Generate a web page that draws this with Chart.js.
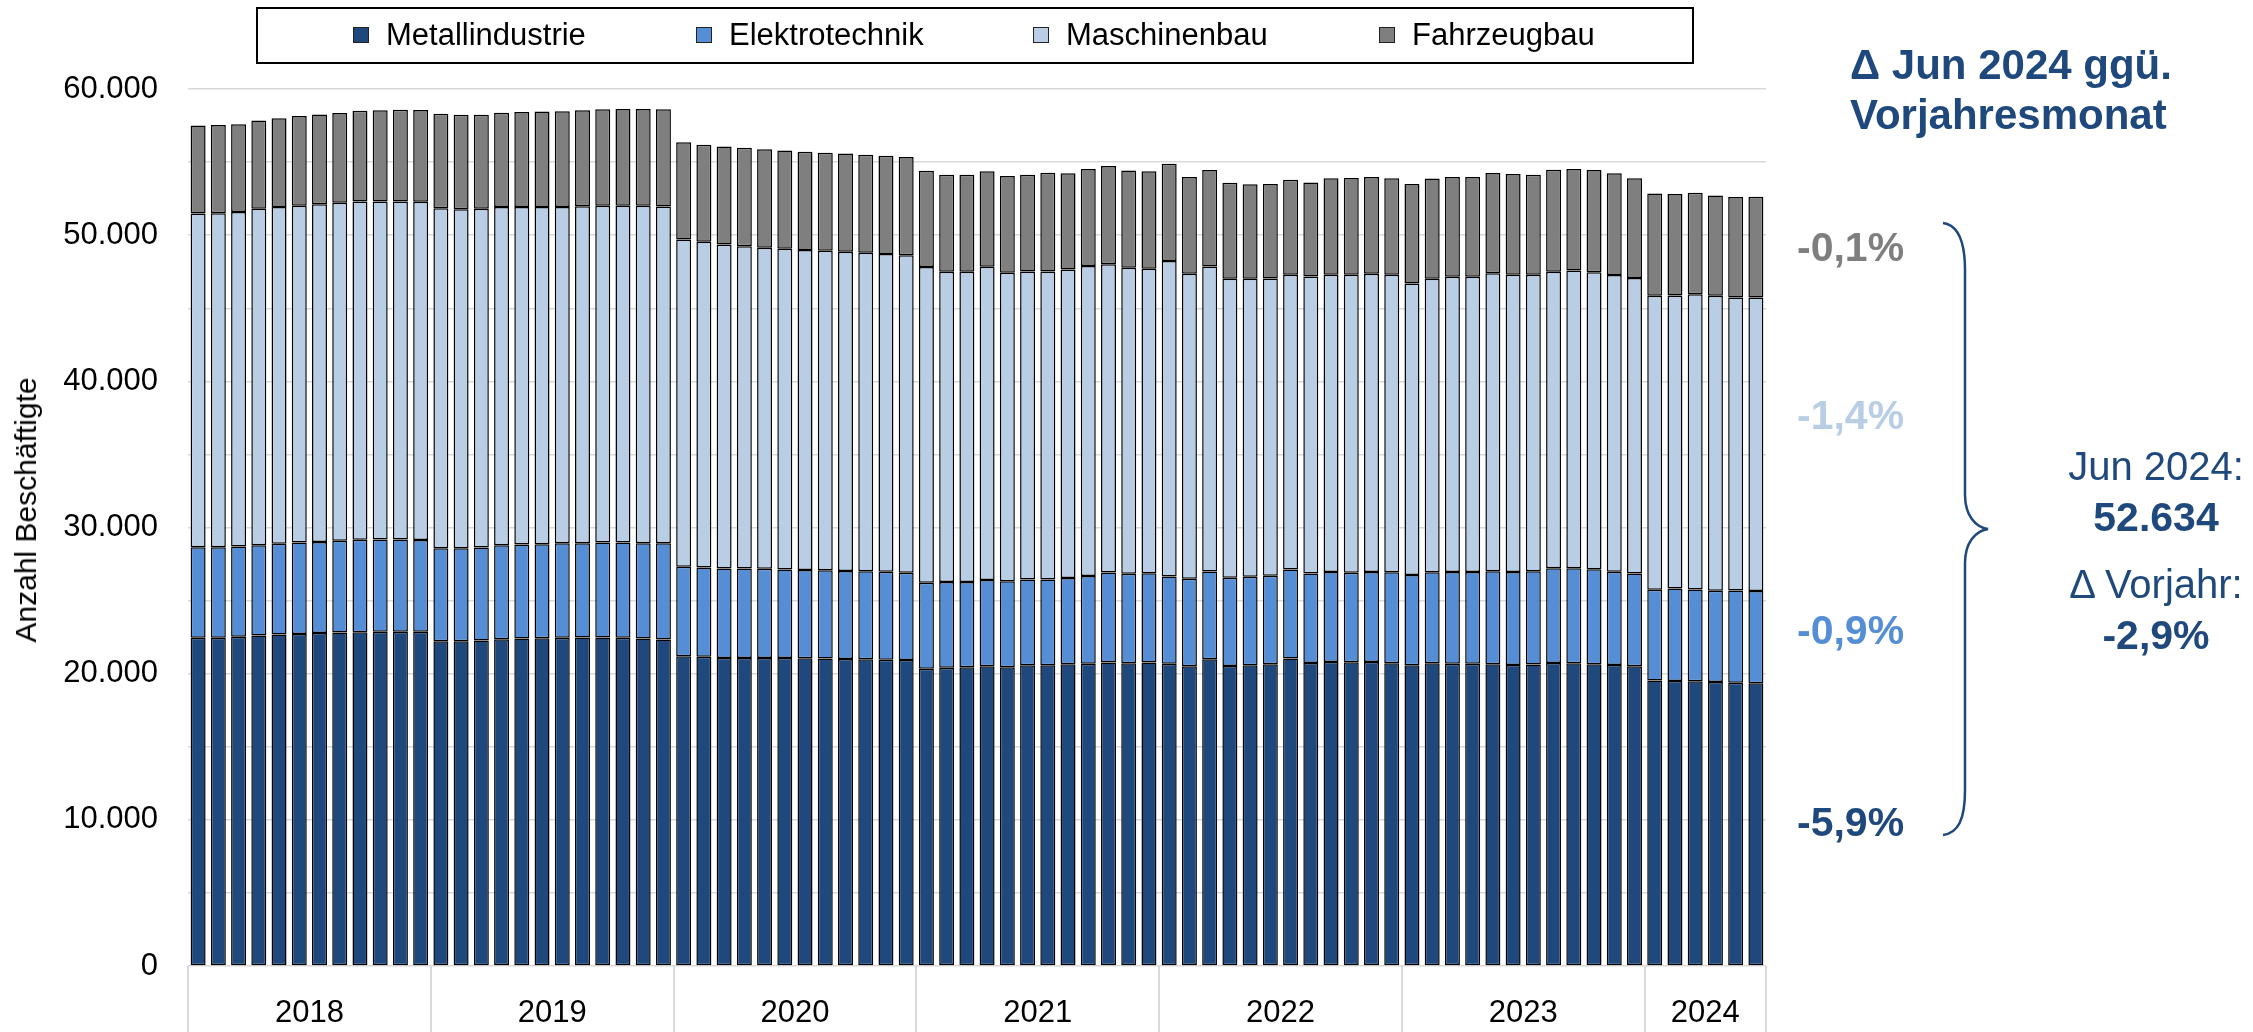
<!DOCTYPE html>
<html lang="de">
<head>
<meta charset="utf-8">
<title>Beschäftigte nach Branche</title>
<script src="https://cdn.jsdelivr.net/npm/chart.js@4.4.1/dist/chart.umd.min.js"></script>
<style>
  html, body { margin: 0; padding: 0; background: #fff; }
  body { width: 2253px; height: 1032px; position: relative; overflow: hidden;
         font-family: 'Liberation Sans', Arial, sans-serif; }
  #wrap { position: absolute; left: 0; top: 0; width: 2253px; height: 1032px; }
  .abs { position: absolute; line-height: 1; white-space: nowrap; }
  .legend { position: absolute; left: 256px; top: 7px; width: 1438px; height: 57px;
            border: 2px solid #000; box-sizing: border-box; }
  .sw { position: absolute; top: 27px; width: 16px; height: 16px; border: 1.5px solid #222; box-sizing: border-box; }
  .lt { position: absolute; top: 19px; font-size: 31px; line-height: 1; color: #000; }
  .blue { color: #1F497D; }
  .pct { font-size: 41px; font-weight: bold; left: 1797px; }
  .ctr { left: 2056px; width: 200px; text-align: center; }
</style>
</head>
<body>
<div id="wrap"><canvas id="chart"></canvas></div>

<!-- Legende -->
<div class="legend"></div>
<div class="sw" style="left:353px;background:#1F497D"></div><div class="lt" style="left:386px">Metallindustrie</div>
<div class="sw" style="left:696px;background:#558ED5"></div><div class="lt" style="left:729px">Elektrotechnik</div>
<div class="sw" style="left:1033px;background:#B9CDE5"></div><div class="lt" style="left:1066px">Maschinenbau</div>
<div class="sw" style="left:1379px;background:#7F7F7F"></div><div class="lt" style="left:1412px">Fahrzeugbau</div>

<!-- Achsentitel -->
<div class="abs" style="left:26px;top:510px;font-size:30px;transform:translate(-50%,-50%) rotate(-90deg);">Anzahl Beschäftigte</div>

<!-- Rechte Seite -->
<div class="abs blue" style="left:1850px;width:300px;top:40px;text-align:center;font-size:42px;font-weight:bold;line-height:50px;">Δ Jun 2024 ggü.<br>Vorjahresmonat</div>
<div class="abs pct" style="top:227px;color:#7F7F7F">-0,1%</div>
<div class="abs pct" style="top:395px;color:#B9CDE5">-1,4%</div>
<div class="abs pct" style="top:610px;color:#558ED5">-0,9%</div>
<div class="abs pct" style="top:802px;color:#1F497D">-5,9%</div>

<svg class="abs" style="left:0;top:0" width="2253" height="1032">
  <path d="M1943 223 C1958 225 1965 240 1965 270 L1965 495 C1965 515 1975 527 1988 529 C1975 531 1965 543 1965 563 L1965 790 C1965 820 1958 833 1943 835"
        fill="none" stroke="#1F497D" stroke-width="2.5"/>
</svg>

<div class="abs blue ctr" style="top:446px;font-size:40px;">Jun 2024:</div>
<div class="abs blue ctr" style="top:497px;font-size:41px;font-weight:bold;">52.634</div>
<div class="abs blue ctr" style="top:564px;font-size:40px;">Δ Vorjahr:</div>
<div class="abs blue ctr" style="top:615px;font-size:41px;font-weight:bold;">-2,9%</div>

<script>
'use strict';

// ---- Daten (Beschäftigte je Monat, Jan 2018 – Jun 2024) ----
const years = ['2018', '2019', '2020', '2021', '2022', '2023', '2024'];
const monthsPerYear = [12, 12, 12, 12, 12, 12, 6];
const monthNames = ['Jan', 'Feb', 'Mrz', 'Apr', 'Mai', 'Jun', 'Jul', 'Aug', 'Sep', 'Okt', 'Nov', 'Dez'];

const metall = [
  22450, 22450, 22520, 22610, 22680, 22720, 22790, 22820, 22840, 22860, 22860, 22860,
  22220, 22220, 22270, 22360, 22400, 22430, 22450, 22470, 22470, 22450, 22400, 22340,
  21190, 21150, 21080, 21080, 21080, 21080, 21050, 21030, 21010, 20990, 20960, 20940,
  20340, 20410, 20440, 20510, 20440, 20570, 20570, 20640, 20670, 20760, 20710, 20760,
  20670, 20510, 20990, 20530, 20570, 20640, 21030, 20730, 20800, 20780, 20800, 20710,
  20570, 20710, 20670, 20670, 20640, 20600, 20620, 20730, 20710, 20640, 20600, 20510,
  19540, 19500, 19480, 19430, 19380, 19340
];
const elektro = [
  6200, 6200, 6180, 6180, 6200, 6250, 6220, 6270, 6320, 6320, 6320, 6290,
  6360, 6360, 6360, 6430, 6430, 6430, 6470, 6450, 6500, 6520, 6520, 6590,
  6130, 6110, 6110, 6110, 6090, 6040, 6040, 6040, 6020, 6020, 6020, 5970,
  5880, 5860, 5830, 5900, 5880, 5880, 5880, 5900, 6020, 6160, 6130, 6110,
  5970, 5990, 6000, 6040, 6060, 6060, 6090, 6130, 6160, 6130, 6160, 6220,
  6180, 6220, 6290, 6290, 6360, 6360, 6380, 6480, 6500, 6500, 6380, 6340,
  6200, 6320, 6270, 6250, 6310, 6310
];
const maschinen = [
  22830, 22850, 22890, 23010, 23050, 23050, 23100, 23120, 23140, 23120, 23120, 23140,
  23260, 23190, 23170, 23140, 23100, 23070, 23010, 23050, 23050, 23050, 23100, 23030,
  22380, 22290, 22170, 22060, 21970, 21950, 21900, 21860, 21840, 21790, 21740, 21720,
  21610, 21230, 21230, 21430, 21110, 21070, 21070, 21110, 21200, 21090, 20930, 20840,
  21590, 20860, 20860, 20450, 20380, 20340, 20170, 20310, 20330, 20380, 20400, 20360,
  19950, 20080, 20200, 20200, 20400, 20330, 20290, 20290, 20380, 20330, 20290, 20220,
  20110, 20050, 20210, 20180, 20050, 20090
];
const fahrzeug = [
  6030, 6030, 6000, 6050, 6070, 6140, 6140, 6140, 6210, 6250, 6280, 6280,
  6460, 6460, 6440, 6440, 6500, 6530, 6550, 6570, 6600, 6620, 6620, 6660,
  6660, 6640, 6710, 6730, 6730, 6730, 6710, 6710, 6710, 6710, 6710, 6710,
  6570, 6640, 6640, 6530, 6620, 6620, 6750, 6590, 6640, 6730, 6660, 6660,
  6660, 6620, 6600, 6570, 6480, 6460, 6500, 6440, 6600, 6620, 6620, 6600,
  6800, 6870, 6820, 6820, 6850, 6890, 6850, 6980, 6940, 6980, 6960, 6820,
  7000, 6940, 6940, 6850, 6870, 6890
];

// Monatslabels und Jahresgrenzen aus den Listen oben
const labels = [];
const yearBounds = [0];
const yearMids = [];
years.forEach((y, i) => {
  const start = yearBounds[i];
  for (let m = 0; m < monthsPerYear[i]; m++) labels.push(monthNames[m] + ' ' + y);
  yearMids.push(start + monthsPerYear[i] / 2);
  yearBounds.push(start + monthsPerYear[i]);
});

const fmtDE = v => String(v).replace(/\B(?=(\d{3})+(?!\d))/g, '.');

Chart.defaults.font.family = "'Liberation Sans', Arial, sans-serif";
Chart.defaults.color = '#000';

const barDs = (label, data, color) => ({
  label, data, backgroundColor: color, borderColor: '#000', borderWidth: 1.5,
  borderSkipped: false, barPercentage: 0.74, categoryPercentage: 1
});

new Chart(document.getElementById('chart'), {
  type: 'bar',
  data: {
    labels,
    datasets: [
      barDs('Metallindustrie', metall, '#1F497D'),
      barDs('Elektrotechnik', elektro, '#558ED5'),
      barDs('Maschinenbau', maschinen, '#B9CDE5'),
      barDs('Fahrzeugbau', fahrzeug, '#7F7F7F')
    ]
  },
  options: {
    responsive: true, maintainAspectRatio: false, animation: false,
    layout: { padding: { left: 0, top: 89, right: 2253 - 1766, bottom: 0 } },
    plugins: { legend: { display: false }, tooltip: { enabled: false } },
    scales: {
      x: { stacked: true, display: false },
      xYear: {
        type: 'linear', position: 'bottom', min: 0, max: labels.length,
        offset: false, bounds: 'data',
        afterBuildTicks: s => { s.ticks = yearBounds.concat(yearMids).sort((a, b) => a - b).map(v => ({ value: v })); },
        afterFit: s => { s.height = 66; },
        border: { display: false },
        grid: {
          offset: false, drawOnChartArea: false, drawTicks: true, tickLength: 66, lineWidth: 2,
          color: c => (c.tick && yearBounds.includes(c.tick.value)) ? '#d9d9d9' : 'rgba(0,0,0,0)'
        },
        ticks: {
          autoSkip: false, maxRotation: 0, padding: -37, font: { size: 31 },
          callback: v => { const i = yearMids.indexOf(v); return i >= 0 ? years[i] : ''; }
        }
      },
      y: {
        stacked: true, min: 0, max: 60000,
        afterFit: s => { s.width = 188; },
        border: { display: false },
        grid: { color: '#d9d9d9', lineWidth: 1.5, drawTicks: false },
        ticks: {
          stepSize: 5000, padding: 30, font: { size: 31 },
          callback: v => v % 10000 === 0 ? fmtDE(v) : ''
        }
      }
    }
  }
});
</script>
</body>
</html>
